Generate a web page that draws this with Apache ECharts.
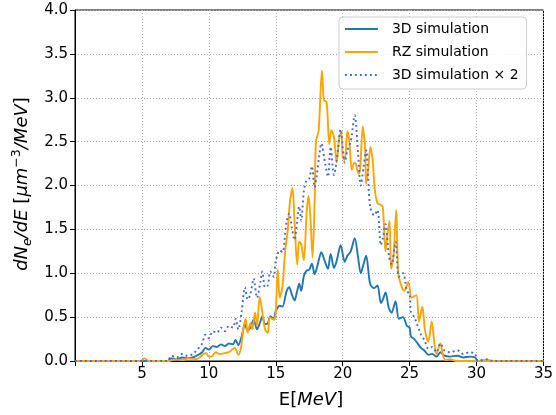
<!DOCTYPE html>
<html>
<head>
<meta charset="utf-8">
<script src="https://cdn.jsdelivr.net/npm/echarts@6/dist/echarts.min.js"></script>
<style>html,body{margin:0;padding:0;background:#fff;}#c{width:556px;height:415px;}</style>
</head>
<body>
<div id="c"></div>
<script>
// Energies (MeV) for the 3D simulation curves
const energies3D = [0, 6.9, 7.2, 7.6, 8.0, 8.4, 8.8, 9.2, 9.5, 9.75, 10.0, 10.3, 10.6, 10.9, 11.2, 11.5, 11.8, 12.0, 12.2, 12.45, 12.7, 12.9, 13.1, 13.35, 13.6, 13.85, 14.0, 14.2, 14.4, 14.6, 14.85, 15.0, 15.3, 15.5, 15.8, 16.0, 16.2, 16.4, 16.6, 16.75, 16.9, 17.1, 17.3, 17.5, 17.7, 17.9, 18.05, 18.25, 18.4, 18.7, 18.9, 19.1, 19.35, 19.55, 19.85, 20.15, 20.35, 20.6, 20.9, 21.15, 21.35, 21.55, 21.75, 22.05, 22.35, 22.6, 22.85, 23.0, 23.2, 23.45, 23.65, 23.95, 24.2, 24.5, 24.8, 25.0, 25.1, 25.35, 25.6, 25.85, 26.1, 26.4, 26.7, 27.0, 27.3, 27.6, 28.0, 28.6, 29.0, 29.5, 29.9, 30.1, 30.8, 31.2, 35];
const sim3D = [0, 0, 0.03, 0.02, 0.04, 0.03, 0.04, 0.07, 0.1, 0.15, 0.13, 0.17, 0.16, 0.19, 0.17, 0.2, 0.19, 0.24, 0.18, 0.28, 0.42, 0.35, 0.38, 0.47, 0.36, 0.45, 0.51, 0.42, 0.43, 0.51, 0.48, 0.57, 0.63, 0.62, 0.79, 0.84, 0.76, 0.69, 0.8, 0.88, 0.8, 0.97, 1.03, 1.04, 1.11, 0.99, 1.05, 1.17, 1.24, 1.12, 1.05, 1.22, 1.06, 1.14, 1.32, 1.13, 1.2, 1.25, 1.4, 1.18, 1.0, 1.1, 1.2, 0.88, 0.83, 0.86, 0.66, 0.7, 0.78, 0.6, 0.55, 0.68, 0.48, 0.5, 0.4, 0.38, 0.28, 0.25, 0.2, 0.15, 0.12, 0.07, 0.08, 0.05, 0.1, 0.06, 0.05, 0.06, 0.04, 0.05, 0.04, 0.0, 0.01, 0, 0];
const sim3Dx2 = [0, 0, 0.06, 0.04, 0.08, 0.06, 0.08, 0.14, 0.2, 0.3, 0.26, 0.34, 0.32, 0.38, 0.34, 0.4, 0.38, 0.48, 0.36, 0.56, 0.84, 0.7, 0.76, 0.94, 0.72, 0.9, 1.02, 0.84, 0.86, 1.02, 0.96, 1.14, 1.26, 1.24, 1.58, 1.68, 1.52, 1.38, 1.6, 1.76, 1.6, 1.94, 2.06, 2.08, 2.22, 1.98, 2.1, 2.34, 2.48, 2.24, 2.1, 2.44, 2.12, 2.28, 2.64, 2.26, 2.4, 2.5, 2.8, 2.36, 2.0, 2.2, 2.4, 1.76, 1.66, 1.72, 1.32, 1.4, 1.56, 1.2, 1.1, 1.36, 0.96, 1.0, 0.8, 0.76, 0.56, 0.5, 0.4, 0.3, 0.24, 0.14, 0.16, 0.1, 0.2, 0.12, 0.1, 0.12, 0.08, 0.1, 0.08, 0, 0.02, 0, 0];

// Energies (MeV) for the RZ simulation curve
const energiesRZ = [0, 4.9, 5.2, 5.5, 7.0, 7.5, 8.0, 8.5, 9.0, 9.3, 9.6, 9.8, 10.0, 10.2, 10.5, 10.8, 11.2, 11.5, 11.75, 11.95, 12.2, 12.4, 12.6, 12.75, 12.9, 13.1, 13.25, 13.45, 13.6, 13.8, 14.0, 14.2, 14.4, 14.55, 14.75, 14.9, 15.0, 15.15, 15.3, 15.5, 15.7, 15.9, 16.05, 16.25, 16.4, 16.6, 16.75, 16.9, 17.1, 17.3, 17.45, 17.6, 17.75, 17.9, 18.0, 18.2, 18.45, 18.6, 18.8, 19.0, 19.15, 19.35, 19.55, 19.75, 19.9, 20.0, 20.15, 20.35, 20.5, 20.68, 20.88, 21.0, 21.18, 21.3, 21.5, 21.68, 21.75, 21.9, 22.07, 22.23, 22.4, 22.6, 22.85, 23.0, 23.2, 23.35, 23.5, 23.62, 23.8, 24.0, 24.15, 24.4, 24.6, 24.9, 25.15, 25.5, 25.7, 25.95, 26.15, 26.4, 26.65, 26.85, 27.0, 27.3, 27.5, 27.7, 28.0, 28.5, 35];
const simRZ = [0, 0, 0.03, 0, 0, 0.02, 0.01, 0.03, 0.02, 0.04, 0.08, 0.09, 0.05, 0.05, 0.1, 0.08, 0.09, 0.1, 0.13, 0.15, 0.07, 0.15, 0.39, 0.48, 0.32, 0.43, 0.36, 0.55, 0.4, 0.73, 0.55, 0.36, 0.32, 0.5, 0.48, 0.47, 0.55, 1.04, 0.72, 0.85, 1.25, 1.5, 1.8, 1.97, 1.6, 1.1, 1.36, 1.33, 1.15, 1.68, 1.88, 1.6, 1.18, 1.8, 2.5, 2.62, 3.31, 2.97, 2.95, 2.47, 2.63, 2.55, 2.26, 2.56, 2.6, 2.33, 2.29, 2.62, 2.5, 2.18, 2.26, 2.24, 2.13, 2.18, 2.67, 2.4, 2.02, 2.17, 2.44, 2.3, 1.95, 1.8, 1.78, 1.75, 1.25, 1.45, 1.6, 1.05, 1.2, 1.72, 1.0, 0.85, 0.8, 0.9, 0.72, 0.75, 0.45, 0.62, 0.35, 0.22, 0.45, 0.2, 0.08, 0.2, 0.06, 0.01, 0.02, 0, 0];

const xTicks = [0, 5, 10, 15, 20, 25, 30, 35];
const yTicks = [0, 0.5, 1, 1.5, 2, 2.5, 3, 3.5, 4];

const seriesNames = ['3D simulation', 'RZ simulation', '3D simulation \u00d7 2'];

function pairs(xs, ys) { return xs.map((x, i) => [x, ys[i]]); }

const FONT = 'DejaVu Sans';
const chart = echarts.init(document.getElementById('c'), null, { renderer: 'canvas' });
const gridColor = '#b0b0b0';
chart.setOption({
  animation: false,
  backgroundColor: '#ffffff',
  grid: { left: 75, right: 9, top: 10, bottom: 54, show: true, borderColor: '#000', borderWidth: 1, backgroundColor: 'transparent' },
  xAxis: {
    type: 'value', min: xTicks[0], max: xTicks[xTicks.length - 1], interval: 5,
    axisLine: { show: true, onZero: false, lineStyle: { color: '#000', width: 1 } },
    axisTick: { show: true, inside: false, length: 5, lineStyle: { color: '#000' } },
    axisLabel: { color: '#000', fontFamily: FONT, fontSize: 15, margin: 6,
      formatter: v => (v === 0 ? '' : String(v)) },
    splitLine: { show: true, lineStyle: { color: gridColor, type: [1, 2], width: 1 } }
  },
  yAxis: {
    type: 'value', min: yTicks[0], max: yTicks[yTicks.length - 1], interval: 0.5,
    axisLine: { show: true, onZero: false, lineStyle: { color: '#000', width: 1 } },
    axisTick: { show: true, inside: false, length: 5, lineStyle: { color: '#000' } },
    axisLabel: { color: '#000', fontFamily: FONT, fontSize: 15, margin: 7,
      formatter: v => v.toFixed(1) },
    splitLine: { show: true, lineStyle: { color: gridColor, type: [1, 2], width: 1 } }
  },
  legend: {
    orient: 'vertical', left: 339, top: 17,
    padding: [5, 8, 7, 5], itemGap: 9, itemWidth: 33, itemHeight: 14,
    backgroundColor: 'rgba(255,255,255,0.85)', borderColor: '#cccccc', borderWidth: 1, borderRadius: 4,
    itemStyle: { color: 'rgba(0,0,0,0)', borderWidth: 0, opacity: 0 },
    lineStyle: { width: 1.8 },
    textStyle: { fontFamily: FONT, fontSize: 14, color: '#000', padding: [0, 0, 0, 9] },
    data: seriesNames
  },
  series: [
    { name: seriesNames[0], type: 'line', data: pairs(energies3D, sim3D), showSymbol: false, symbol: 'none', smooth: 0.3,
      lineStyle: { color: '#1f77b4', width: 1.9 }, itemStyle: { color: '#1f77b4' }, z: 3 },
    { name: seriesNames[1], type: 'line', data: pairs(energiesRZ, simRZ), showSymbol: false, symbol: 'none', smooth: 0.3,
      lineStyle: { color: '#ffa500', width: 1.9 }, itemStyle: { color: '#ffa500' }, z: 4 },
    { name: seriesNames[2], type: 'line', data: pairs(energies3D, sim3Dx2), showSymbol: false, symbol: 'none', smooth: 0.3,
      lineStyle: { color: '#4169e1', width: 1.9, type: [1.9, 3.1], cap: 'butt' }, itemStyle: { color: '#4169e1' }, z: 5 }
  ],
  graphic: [
    { type: 'text', x: 311, y: 400, z: 10,
      style: { text: '{n|E[}{i|MeV}{n|]}', textAlign: 'center', textVerticalAlign: 'middle',
        rich: { n: { fontFamily: FONT, fontSize: 18, fill: '#000' }, i: { fontFamily: FONT, fontSize: 18, fontStyle: 'italic', fill: '#000' } } } },
    { type: 'text', x: 22, y: 184, rotation: Math.PI / 2, z: 10,
      style: { text: '{i|dN}{sub|e}{i|/dE }{n|[}{i|\u03bcm}{sup|\u22123}{i|/MeV}{n|]}', textAlign: 'center', textVerticalAlign: 'middle',
        rich: {
          i: { fontFamily: FONT, fontSize: 18, fontStyle: 'italic', fill: '#000', lineHeight: 24, verticalAlign: 'middle' },
          n: { fontFamily: FONT, fontSize: 18, fill: '#000', lineHeight: 24, verticalAlign: 'middle' },
          sub: { fontFamily: FONT, fontSize: 12.5, fontStyle: 'italic', fill: '#000', lineHeight: 24, verticalAlign: 'bottom' },
          sup: { fontFamily: FONT, fontSize: 12.5, fill: '#000', lineHeight: 24, verticalAlign: 'top' }
        } } }
  ]
});
</script>
</body>
</html>
